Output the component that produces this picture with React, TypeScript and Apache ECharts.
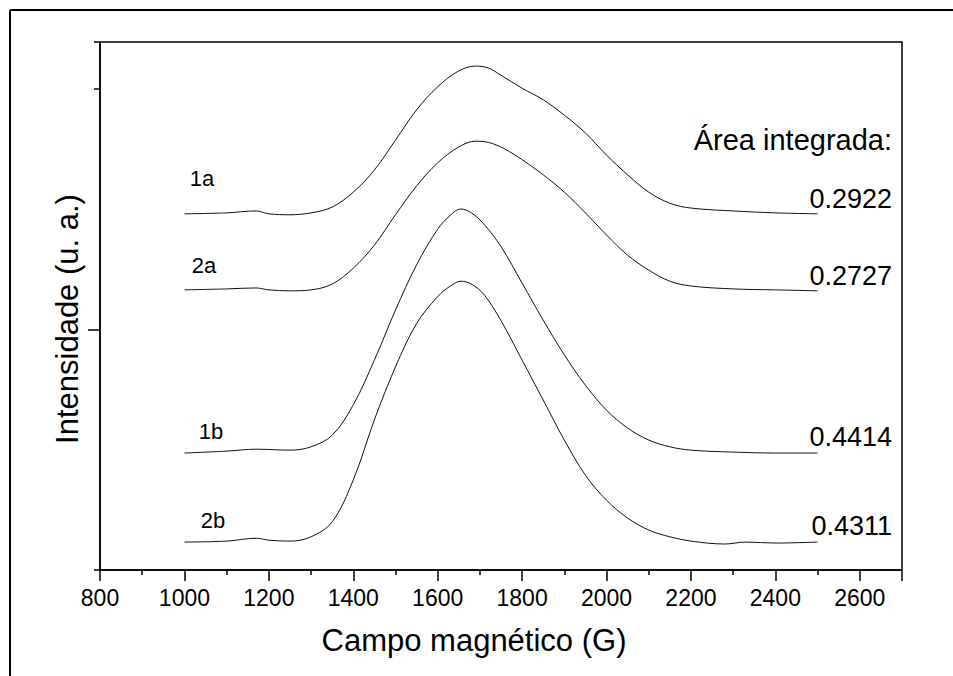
import React, { useEffect, useRef } from "react";
import * as echarts from "echarts";

// Magnetic field (G) sampling points for each spectrum
const field1a = [1000, 1100, 1170, 1200, 1250, 1300, 1350, 1400, 1450, 1500, 1550, 1600, 1650, 1690, 1720, 1750, 1800, 1850, 1900, 1950, 2000, 2050, 2100, 2150, 2200, 2300, 2400, 2500];
const signal1a = [740, 742, 746, 740, 738, 742, 754, 785, 831, 893, 956, 1004, 1037, 1047, 1043, 1028, 1001, 977, 945, 908, 862, 821, 785, 762, 752, 746, 742, 740];

const field2a = [1000, 1100, 1170, 1200, 1250, 1300, 1350, 1400, 1450, 1500, 1550, 1600, 1650, 1690, 1730, 1780, 1850, 1900, 1950, 2000, 2050, 2100, 2150, 2200, 2300, 2400, 2500];
const signal2a = [582, 584, 586, 582, 580, 582, 594, 627, 675, 738, 798, 846, 879, 891, 886, 864, 821, 785, 742, 696, 654, 623, 600, 590, 584, 582, 580];

const field1b = [1000, 1100, 1170, 1250, 1300, 1350, 1400, 1450, 1500, 1550, 1600, 1630, 1655, 1680, 1710, 1750, 1800, 1850, 1900, 1950, 2000, 2050, 2100, 2150, 2200, 2300, 2400, 2500];
const signal1b = [243, 247, 251, 249, 256, 280, 343, 436, 540, 634, 708, 737, 750, 742, 718, 672, 596, 519, 447, 384, 332, 295, 270, 256, 249, 245, 243, 243];

const field2b = [1000, 1100, 1170, 1200, 1250, 1300, 1350, 1400, 1450, 1500, 1550, 1600, 1630, 1655, 1680, 1710, 1750, 1800, 1850, 1900, 1950, 2000, 2050, 2100, 2150, 2200, 2280, 2330, 2400, 2500];
const signal2b = [58, 60, 66, 62, 60, 69, 100, 187, 312, 422, 512, 568, 590, 600, 594, 572, 518, 436, 353, 270, 197, 145, 108, 83, 69, 60, 54, 58, 56, 58];

// Sample names and their integrated areas
const sampleNames = ["1a", "2a", "1b", "2b"];
const integratedAreas = ["0.2922", "0.2727", "0.4414", "0.4311"];

const xTicks = { min: 800, max: 2700, interval: 200 };

const FONT = "Liberation Sans, Arial, Helvetica, sans-serif";

function pairs(xs: number[], ys: number[]) {
  return xs.map((x, i) => [x, ys[i]]);
}

export default function App() {
  const ref = useRef<HTMLDivElement>(null);

  useEffect(() => {
    if (!ref.current) return;
    const chart = echarts.init(ref.current, null, { renderer: "svg" });

    const seriesData = [
      pairs(field1a, signal1a),
      pairs(field2a, signal2a),
      pairs(field1b, signal1b),
      pairs(field2b, signal2b),
    ];

    const namePos = [
      [202, 178],
      [204, 265],
      [211, 431],
      [213, 520],
    ];
    const areaY = [199, 276, 437, 526];

    const textStyle = (text: string, size: number, align: string) => ({
      text,
      fontFamily: FONT,
      fontSize: size,
      fill: "#000",
      align,
      verticalAlign: "middle",
    });

    chart.setOption({
      animation: false,
      backgroundColor: "#ffffff",
      grid: {
        left: 100,
        top: 42,
        right: 51,
        bottom: 106,
        show: true,
        borderColor: "#000",
        borderWidth: 1.5,
      },
      xAxis: {
        type: "value",
        min: xTicks.min,
        max: xTicks.max,
        interval: xTicks.interval,
        axisLine: { show: true, lineStyle: { color: "#000", width: 1.5 } },
        axisTick: { show: true, inside: false, length: 11, lineStyle: { color: "#000", width: 1.5 } },
        minorTick: { show: true, splitNumber: 2, length: 5, lineStyle: { color: "#000", width: 1.5 } },
        axisLabel: {
          fontFamily: FONT,
          fontSize: 23,
          color: "#000",
          margin: 16,
          formatter: (v: number) => String(v),
        },
        splitLine: { show: false },
        minorSplitLine: { show: false },
      },
      yAxis: {
        type: "value",
        min: 0,
        max: 1097,
        interval: 1000,
        axisLine: { show: true, lineStyle: { color: "#000", width: 1.5 } },
        axisTick: { show: true, inside: false, length: 6, lineStyle: { color: "#000", width: 1.5 } },
        minorTick: { show: true, splitNumber: 2, length: 12, lineStyle: { color: "#000", width: 1.5 } },
        axisLabel: { show: false },
        splitLine: { show: false },
        minorSplitLine: { show: false },
      },
      series: seriesData.map((d, i) => ({
        name: sampleNames[i],
        type: "line",
        data: d,
        smooth: 0.35,
        showSymbol: false,
        lineStyle: { color: "#111", width: 1 },
        z: 3,
      })),
      graphic: [
        // outer frame
        { type: "line", shape: { x1: 10, y1: 10, x2: 953, y2: 10 }, style: { stroke: "#000", lineWidth: 2 } },
        { type: "line", shape: { x1: 10, y1: 10, x2: 10, y2: 676 }, style: { stroke: "#000", lineWidth: 2 } },
        // axis titles
        { type: "text", x: 474, y: 640, style: textStyle("Campo magnético (G)", 31, "center") },
        {
          type: "text",
          x: 67,
          y: 319,
          rotation: Math.PI / 2,
          style: textStyle("Intensidade (u. a.)", 31, "center"),
        },
        ...sampleNames.map((n, i) => ({
          type: "text",
          x: namePos[i][0],
          y: namePos[i][1],
          style: textStyle(n, 22, "center"),
        })),
        { type: "text", x: 892, y: 140, style: textStyle("Área integrada:", 29, "right") },
        ...integratedAreas.map((v, i) => ({
          type: "text",
          x: 892,
          y: areaY[i],
          style: textStyle(v, 27, "right"),
        })),
      ],
    });

    return () => chart.dispose();
  }, []);

  return (
    <div
      ref={ref}
      style={{ position: "fixed", left: 0, top: 0, width: 953, height: 676, background: "#fff" }}
    />
  );
}
